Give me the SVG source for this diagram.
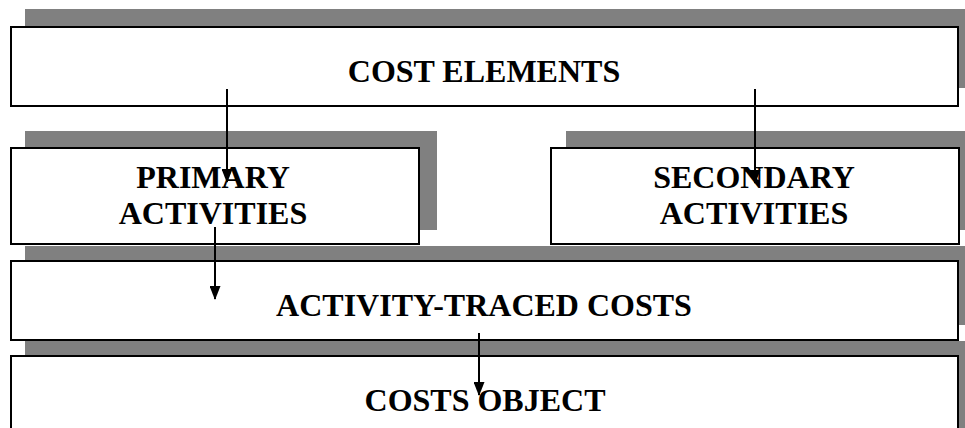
<svg xmlns="http://www.w3.org/2000/svg" width="965" height="428" viewBox="0 0 965 428">
<style>
.sh{fill:#808080}
.bx{fill:#fff;stroke:#000;stroke-width:2}
.t{font-family:"Liberation Serif","Times New Roman",serif;font-weight:bold;font-size:32px;fill:#000;text-anchor:middle}
.c{stroke:#000;stroke-width:2;fill:none;marker-end:url(#ah)}
</style>
<defs>
<marker id="ah" markerUnits="userSpaceOnUse" markerWidth="14" markerHeight="11" viewBox="0 0 14 11" refX="13" refY="5.5" orient="auto">
<path d="M0,0 L14,5.5 L0,11 Z" fill="#000"/>
</marker>
</defs>
<rect width="965" height="428" fill="#fff"/>
<g id="cost-elements">
<rect class="sh" x="25" y="9" width="950" height="79"/>
<rect class="bx" x="11" y="27" width="947" height="79"/>
<text class="t" x="484" y="82">COST ELEMENTS</text>
</g>
<g id="primary-activities">
<rect class="sh" x="25" y="131" width="412" height="99"/>
<rect class="bx" x="11" y="148" width="408" height="96"/>
<text class="t" x="213" y="188">PRIMARY</text>
<text class="t" x="213" y="224">ACTIVITIES</text>
</g>
<g id="secondary-activities">
<rect class="sh" x="566" y="131" width="420" height="99"/>
<rect class="bx" x="551" y="148" width="408" height="96"/>
<text class="t" x="754" y="188">SECONDARY</text>
<text class="t" x="754" y="224">ACTIVITIES</text>
</g>
<g id="activity-traced-costs">
<rect class="sh" x="25" y="246" width="950" height="79"/>
<rect class="bx" x="11" y="261" width="947" height="79"/>
<text class="t" x="484" y="316">ACTIVITY-TRACED COSTS</text>
</g>
<g id="costs-object">
<rect class="sh" x="25" y="341" width="950" height="100"/>
<rect class="bx" x="11" y="356" width="947" height="90"/>
<text class="t" x="485" y="411">COSTS OBJECT</text>
</g>
<g id="connectors">
<line class="c" x1="227" y1="89" x2="227" y2="182"/>
<line class="c" x1="755" y1="89" x2="755" y2="183"/>
<line class="c" x1="215" y1="227" x2="215" y2="299"/>
<line class="c" x1="479" y1="333" x2="479" y2="395"/>
</g>
</svg>
